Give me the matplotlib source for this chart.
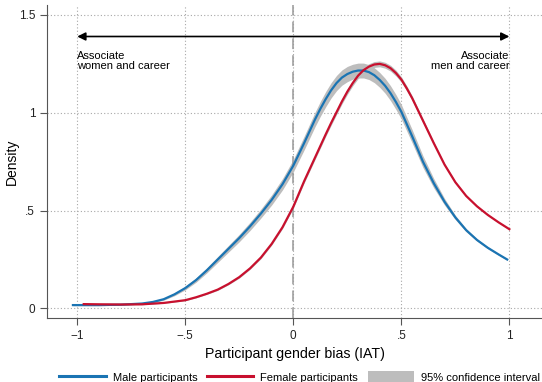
import matplotlib
matplotlib.use("Agg")
import matplotlib.pyplot as plt
import numpy as np

plt.rcParams['font.family'] = ['Liberation Sans', 'DejaVu Sans']

# values
male_x = [-1.02, -0.9, -0.8, -0.7, -0.65, -0.6, -0.55, -0.5, -0.45, -0.4, -0.35, -0.3,
          -0.25, -0.2, -0.15, -0.1, -0.05, 0.0, 0.05, 0.1, 0.125, 0.15, 0.175, 0.2, 0.225,
          0.25, 0.275, 0.3, 0.325, 0.35, 0.375, 0.4, 0.425, 0.45, 0.475, 0.5, 0.55, 0.6,
          0.65, 0.7, 0.75, 0.8, 0.85, 0.9, 0.95, 0.99]
male_y = [0.017, 0.017, 0.019, 0.025, 0.033, 0.047, 0.072, 0.104, 0.145, 0.195, 0.25, 0.305,
          0.36, 0.42, 0.485, 0.555, 0.635, 0.73, 0.845, 0.965, 1.02, 1.07, 1.115, 1.152, 1.18,
          1.198, 1.21, 1.216, 1.216, 1.208, 1.192, 1.168, 1.138, 1.10, 1.055, 1.005, 0.88, 0.75,
          0.64, 0.545, 0.465, 0.40, 0.35, 0.31, 0.276, 0.25]
male_ci = [0.003, 0.003, 0.003, 0.003, 0.004, 0.005, 0.007, 0.009, 0.011, 0.013, 0.015, 0.017,
           0.019, 0.021, 0.023, 0.026, 0.029, 0.032, 0.035, 0.037, 0.038, 0.039, 0.039, 0.039, 0.039,
           0.039, 0.038, 0.038, 0.038, 0.038, 0.038, 0.038, 0.038, 0.038, 0.038, 0.037, 0.034, 0.03,
           0.024, 0.017, 0.011, 0.008, 0.006, 0.005, 0.004, 0.004]

female_x = [-0.97, -0.9, -0.8, -0.7, -0.6, -0.5, -0.45, -0.4, -0.35, -0.3, -0.25, -0.2,
            -0.15, -0.1, -0.05, 0.0, 0.05, 0.075, 0.1, 0.125, 0.15, 0.175, 0.2, 0.225, 0.25,
            0.275, 0.3, 0.325, 0.35, 0.375, 0.4, 0.425, 0.45, 0.475, 0.5, 0.525, 0.55, 0.6,
            0.65, 0.7, 0.75, 0.8, 0.85, 0.9, 0.95, 1.0]
female_y = [0.022, 0.021, 0.02, 0.021, 0.028, 0.042, 0.057, 0.075, 0.096, 0.125, 0.16, 0.205,
            0.26, 0.33, 0.415, 0.52, 0.65, 0.71, 0.77, 0.83, 0.89, 0.948, 1.003, 1.058, 1.108,
            1.152, 1.19, 1.218, 1.236, 1.247, 1.25, 1.243, 1.228, 1.203, 1.17, 1.125, 1.075, 0.96,
            0.845, 0.735, 0.645, 0.575, 0.522, 0.478, 0.44, 0.405]
female_ci = [0.002, 0.002, 0.002, 0.002, 0.002, 0.003, 0.003, 0.003, 0.004, 0.004, 0.005, 0.005,
             0.006, 0.006, 0.007, 0.008, 0.009, 0.010, 0.010, 0.011, 0.011, 0.012, 0.012, 0.013, 0.014,
             0.014, 0.015, 0.015, 0.015, 0.015, 0.015, 0.015, 0.015, 0.015, 0.014, 0.013, 0.012, 0.010,
             0.008, 0.006, 0.005, 0.004, 0.004, 0.003, 0.003, 0.003]

xticks = [-1, -0.5, 0, 0.5, 1]
xticklabels = ['\u22121', '\u2212.5', '0', '.5', '1']
yticks = [0, 0.5, 1, 1.5]
yticklabels = ['0', '.5', '1', '1.5']

blue = '#1a74b3'
red = '#c8102e'
gray = '#bdbdbd'

fig = plt.figure(figsize=(5.42, 3.82), dpi=100)
ax = fig.add_axes([47/542, 64/382, 495/542, 313/382])

mx = np.array(male_x); my = np.array(male_y); mc = np.array(male_ci)
fx = np.array(female_x); fy = np.array(female_y); fc = np.array(female_ci)

ax.fill_between(mx, my - mc, my + mc, color=gray, lw=0, zorder=2)
ax.fill_between(fx, fy - fc, fy + fc, color=gray, lw=0, zorder=2)
ax.plot(mx, my, color=blue, lw=1.6, zorder=4, solid_joinstyle='round')
ax.plot(fx, fy, color=red, lw=1.6, zorder=4, solid_joinstyle='round')

ax.axvline(0, color='#999999', lw=1.1, ls=(0, (7, 4)), zorder=3)

ax.set_xlim(-1.14, 1.151)
ax.set_ylim(-0.049, 1.551)
ax.set_xticks(xticks)
ax.set_xticklabels(xticklabels)
ax.set_yticks(yticks)
ax.set_yticklabels(yticklabels)
ax.grid(True, color='#a8a8a8', lw=0.8, ls=(0, (1, 2)), zorder=1)
ax.set_axisbelow(True)

for s in ['top', 'right']:
    ax.spines[s].set_visible(False)
ax.spines['left'].set_color('#555555')
ax.spines['bottom'].set_color('#555555')
ax.tick_params(direction='out', length=5, width=0.8, color='#555555',
               labelsize=8.5, labelcolor='#222222')

ax.set_ylabel('Density', fontsize=10)
ax.yaxis.set_label_coords(-0.056, 0.5)
ax.set_xlabel('Participant gender bias (IAT)', fontsize=10.2, labelpad=4)

# arrow across the top
ax.annotate('', xy=(1, 1.39), xytext=(-1, 1.39),
            arrowprops=dict(arrowstyle='<|-|>', color='black', lw=1.2,
                            mutation_scale=12, shrinkA=0, shrinkB=0))
ax.text(-1, 1.315, 'Associate\nwomen and career', fontsize=8, ha='left', va='top',
        linespacing=1.0)
ax.text(1, 1.315, 'Associate\nmen and career', fontsize=8, ha='right', va='top',
        multialignment='right', linespacing=1.0)

h1, = ax.plot([], [], color=blue, lw=2.2)
h2, = ax.plot([], [], color=red, lw=2.2)
h3 = plt.Rectangle((0, 0), 1, 1, color=gray, lw=0)
fig.legend([h1, h2, h3], ['Male participants', 'Female participants', '95% confidence interval'],
           loc='center left', bbox_to_anchor=(59/542, 1 - 377/382), ncol=3, frameon=False,
           fontsize=8, handlelength=4.2, handleheight=1.1, columnspacing=0.85,
           handletextpad=0.63, borderpad=0, borderaxespad=0)

fig.savefig('out.png', dpi=100)
